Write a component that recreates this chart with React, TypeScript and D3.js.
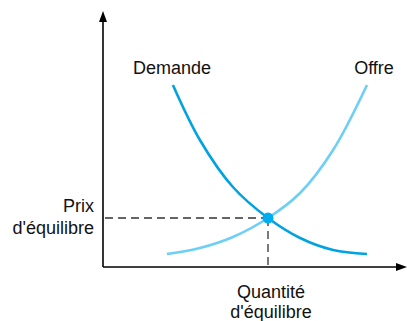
import React from "react";
import * as d3 from "d3";

const demandX = [23.3, 32.3, 43.3, 55, 65.7, 76.7, 88];
const demandY = [72.8, 50.8, 32, 19.6, 11.6, 6.8, 5.2];
const supplyX = [21.3, 32.3, 43.3, 55, 65.7, 76.7, 88];
const supplyY = [5.2, 7.6, 12, 19.6, 29.6, 46.8, 72.8];
const eqX = 55;
const eqY = 19.6;
const labels = {
  demand: "Demande",
  supply: "Offre",
  price: ["Prix", "d'équilibre"],
  qty: ["Quantité", "d'équilibre"],
};

export default function App() {
  const W = 407, H = 321;
  const x = d3.scaleLinear().domain([0, 100]).range([103, 403]);
  const y = d3.scaleLinear().domain([0, 100]).range([267, 17]);
  const line = d3
    .line<[number, number]>()
    .x((d) => x(d[0]))
    .y((d) => y(d[1]))
    .curve(d3.curveCatmullRom.alpha(0.5));
  const dem = demandX.map((v, i) => [v, demandY[i]] as [number, number]);
  const sup = supplyX.map((v, i) => [v, supplyY[i]] as [number, number]);
  const ox = x(0), oy = y(0);
  const font = "'Liberation Sans', Arial, Helvetica, sans-serif";
  return (
    <svg
      width={W}
      height={H}
      style={{ position: "absolute", left: 0, top: 0, background: "#fff" }}
      fontFamily={font}
    >
      {/* axes */}
      <line x1={ox} y1={oy} x2={ox} y2={18} stroke="#000" strokeWidth={1.6} />
      <polygon points={`${ox},11 ${ox - 4},22 ${ox + 4},22`} fill="#000" />
      <line x1={ox} y1={oy} x2={400} y2={oy} stroke="#000" strokeWidth={1.6} />
      <polygon points={`407,${oy} 396,${oy - 4} 396,${oy + 4}`} fill="#000" />
      {/* dashed guides */}
      <line x1={ox + 2} y1={y(eqY)} x2={x(eqX)} y2={y(eqY)} stroke="#333" strokeWidth={1.3} strokeDasharray="8,5" />
      <line x1={x(eqX)} y1={y(eqY)} x2={x(eqX)} y2={oy} stroke="#333" strokeWidth={1.3} strokeDasharray="8,5" />
      {/* curves */}
      <path d={line(sup) || ""} fill="none" stroke="#6dcff6" strokeWidth={2.6} />
      <path d={line(dem) || ""} fill="none" stroke="#00a3e0" strokeWidth={2.6} />
      <circle cx={x(eqX)} cy={y(eqY)} r={5.5} fill="#00aeef" />
      {/* labels */}
      <text x={172} y={74} fontSize={18} textAnchor="middle" fill="#111">{labels.demand}</text>
      <text x={374} y={74} fontSize={18} textAnchor="middle" fill="#111">{labels.supply}</text>
      <text x={94} y={212} fontSize={18} textAnchor="end" fill="#111">{labels.price[0]}</text>
      <text x={94} y={234} fontSize={18} textAnchor="end" fill="#111">{labels.price[1]}</text>
      <text x={271} y={298} fontSize={18} textAnchor="middle" fill="#111">{labels.qty[0]}</text>
      <text x={271} y={318} fontSize={18} textAnchor="middle" fill="#111">{labels.qty[1]}</text>
    </svg>
  );
}
